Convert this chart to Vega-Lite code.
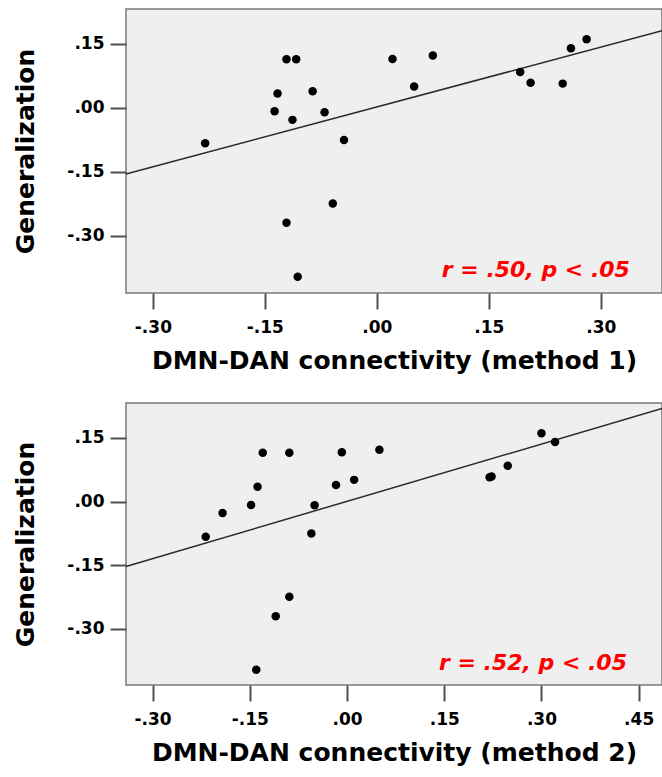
{
  "$schema": "https://vega.github.io/schema/vega-lite/v6.json",
  "background": "white",
  "padding": {"left": 13, "top": 8, "right": 0, "bottom": 0},
  "spacing": 28,
  "datasets": {
    "pts1": [
      {"x": -0.230, "y": -0.083}, {"x": -0.137, "y": -0.008}, {"x": -0.133, "y": 0.034},
      {"x": -0.121, "y": 0.114}, {"x": -0.108, "y": 0.114}, {"x": -0.113, "y": -0.028},
      {"x": -0.086, "y": 0.039}, {"x": -0.070, "y": -0.010}, {"x": -0.121, "y": -0.269},
      {"x": -0.106, "y": -0.396}, {"x": -0.059, "y": -0.224}, {"x": -0.044, "y": -0.075},
      {"x": 0.021, "y": 0.115}, {"x": 0.075, "y": 0.123}, {"x": 0.050, "y": 0.050},
      {"x": 0.192, "y": 0.084}, {"x": 0.206, "y": 0.059}, {"x": 0.249, "y": 0.057},
      {"x": 0.260, "y": 0.140}, {"x": 0.281, "y": 0.161}
    ],
    "pts2": [
      {"x": -0.218, "y": -0.083}, {"x": -0.192, "y": -0.027}, {"x": -0.148, "y": -0.008},
      {"x": -0.138, "y": 0.035}, {"x": -0.130, "y": 0.115}, {"x": -0.089, "y": 0.115},
      {"x": -0.050, "y": -0.009}, {"x": -0.055, "y": -0.075}, {"x": -0.089, "y": -0.224},
      {"x": -0.110, "y": -0.270}, {"x": -0.140, "y": -0.396}, {"x": -0.017, "y": 0.039},
      {"x": -0.008, "y": 0.116}, {"x": 0.011, "y": 0.051}, {"x": 0.050, "y": 0.122},
      {"x": 0.220, "y": 0.057}, {"x": 0.223, "y": 0.059}, {"x": 0.248, "y": 0.084},
      {"x": 0.300, "y": 0.161}, {"x": 0.321, "y": 0.140}
    ],
    "fit1": [{"x": -0.336, "y": -0.155}, {"x": 0.382, "y": 0.181}],
    "fit2": [{"x": -0.341, "y": -0.153}, {"x": 0.486, "y": 0.219}],
    "lab1": [{"x": 0.339, "y": -0.397, "label": "r = .50, p <  .05"}],
    "lab2": [{"x": 0.432, "y": -0.396, "label": "r = .52, p < .05"}]
  },
  "vconcat": [
    {
      "width": 536,
      "height": 284,
      "encoding": {
        "x": {"field": "x", "type": "quantitative",
              "scale": {"domain": [-0.336, 0.382], "nice": false, "zero": false},
              "axis": {"values": [-0.3, -0.15, 0, 0.15, 0.3], "title": "DMN-DAN connectivity (method 1)"}},
        "y": {"field": "y", "type": "quantitative",
              "scale": {"domain": [-0.434, 0.232], "nice": false, "zero": false},
              "axis": {"values": [-0.3, -0.15, 0, 0.15], "title": "Generalization"}}
      },
      "layer": [
        {"data": {"name": "fit1"}, "mark": {"type": "line", "color": "#2a2a2a", "strokeWidth": 1.5}},
        {"data": {"name": "pts1"}, "mark": {"type": "circle", "color": "black", "opacity": 1, "size": 72}},
        {"data": {"name": "lab1"}, "mark": {"type": "text", "align": "right", "baseline": "alphabetic", "color": "#ff0000", "font": "DejaVu Sans", "fontWeight": "bold", "fontStyle": "italic", "fontSize": 22},
         "encoding": {"text": {"field": "label"}}}
      ]
    },
    {
      "width": 536,
      "height": 282,
      "encoding": {
        "x": {"field": "x", "type": "quantitative",
              "scale": {"domain": [-0.341, 0.486], "nice": false, "zero": false},
              "axis": {"values": [-0.3, -0.15, 0, 0.15, 0.3, 0.45], "title": "DMN-DAN connectivity (method 2)"}},
        "y": {"field": "y", "type": "quantitative",
              "scale": {"domain": [-0.432, 0.232], "nice": false, "zero": false},
              "axis": {"values": [-0.3, -0.15, 0, 0.15], "title": "Generalization"}}
      },
      "layer": [
        {"data": {"name": "fit2"}, "mark": {"type": "line", "color": "#2a2a2a", "strokeWidth": 1.5}},
        {"data": {"name": "pts2"}, "mark": {"type": "circle", "color": "black", "opacity": 1, "size": 72}},
        {"data": {"name": "lab2"}, "mark": {"type": "text", "align": "right", "baseline": "alphabetic", "color": "#ff0000", "font": "DejaVu Sans", "fontWeight": "bold", "fontStyle": "italic", "fontSize": 22},
         "encoding": {"text": {"field": "label"}}}
      ]
    }
  ],
  "config": {
    "view": {"fill": "#efefef", "stroke": "#7a7a7a", "strokeWidth": 1.5},
    "axis": {
      "domain": false,
      "grid": false,
      "ticks": true,
      "tickSize": 16,
      "tickWidth": 2,
      "tickColor": "#505050",
      "labelFont": "DejaVu Sans",
      "labelFontWeight": "bold",
      "labelFontSize": 17,
      "labelColor": "black",
      "labelPadding": 7,
      "labelExpr": "(datum.value < 0 ? '-' : '') + replace(format(abs(datum.value), '.2f'), '0.', '.')",
      "titleFont": "DejaVu Sans",
      "titleFontWeight": "bold",
      "titleFontSize": 25,
      "titleColor": "black"
    },
    "axisX": {"titlePadding": 13, "labelPadding": 10},
    "axisY": {"titlePadding": 28, "labelPadding": 6}
  }
}
